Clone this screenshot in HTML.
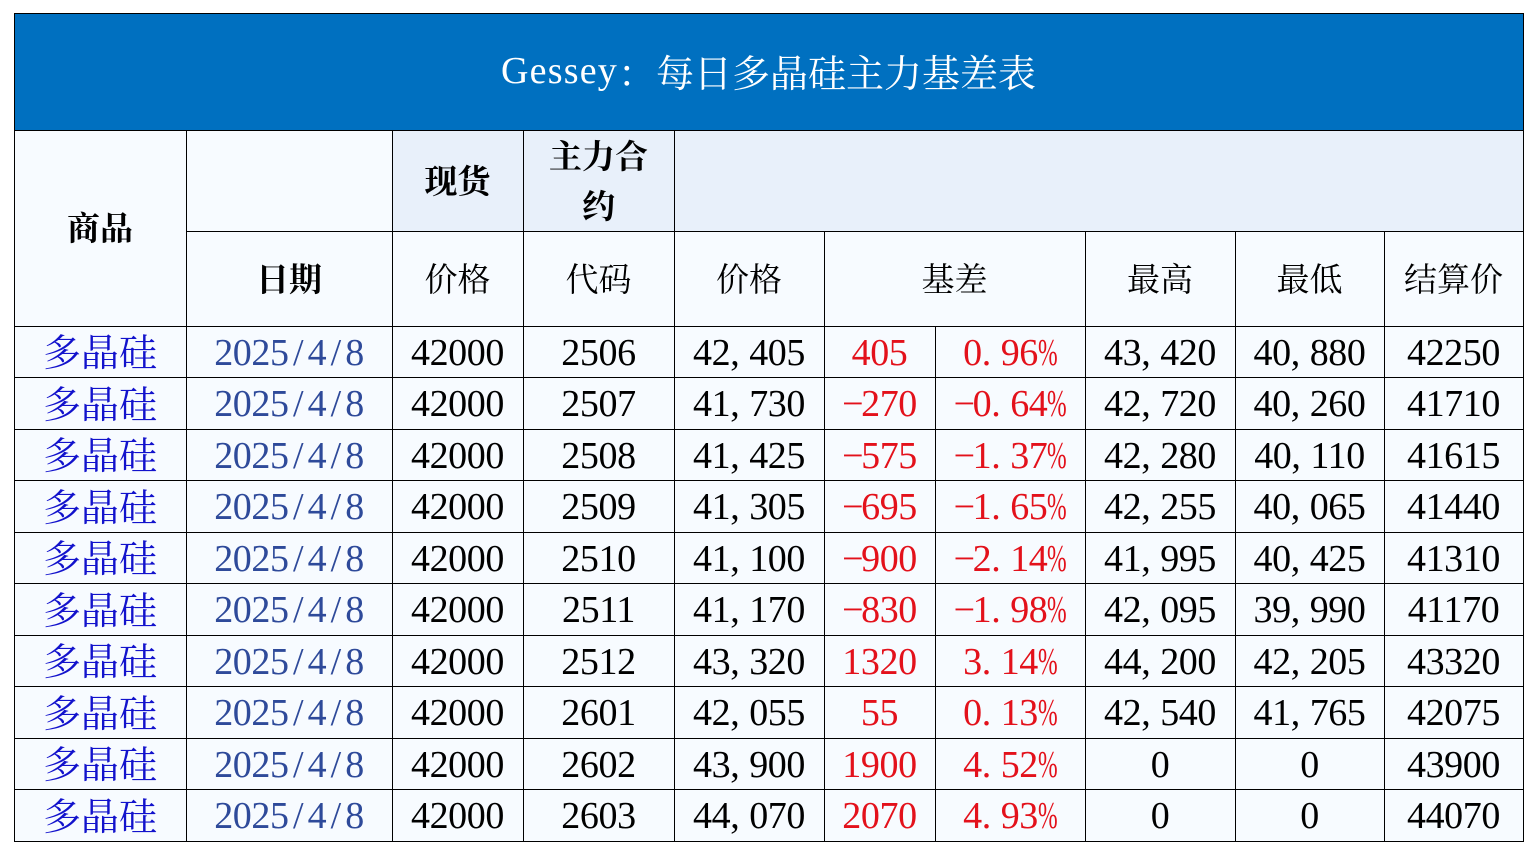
<!DOCTYPE html>
<html><head><meta charset="utf-8">
<style>
html,body{margin:0;padding:0;background:#fff}
body{width:1537px;height:861px;position:relative;overflow:hidden}
.bg{position:absolute}
.c{position:absolute;display:flex;align-items:center;justify-content:center;white-space:nowrap;box-sizing:border-box;padding-top:2px}
.n{font-family:"Liberation Serif","Noto Serif CJK SC",serif;font-size:38px;letter-spacing:-0.4px;line-height:1;color:#000}
.k{font-family:"Noto Serif CJK SC","Liberation Serif",serif;line-height:1;padding-top:0;padding-bottom:3px}
.h{font-size:33px;color:#000}
.hb{font-size:33px;color:#000;font-weight:bold}
.p{font-size:38px;color:#1212cc}
.d{color:#2e4a9a}
.r{color:#e3111b}
i{font-style:normal;display:inline-block;width:.5em;text-align:left}
i.s{text-align:center}
i.m{text-align:center}
u{text-decoration:none;display:inline-block;width:.5em;overflow:visible}
u span{display:inline-block;transform:scaleX(.62);transform-origin:left center}
.L{position:absolute;background:#000}
</style></head><body>

<!-- backgrounds -->
<div class="bg" style="left:14px;top:13px;width:1509px;height:117px;background:#0070c0"></div>
<div class="bg" style="left:14px;top:130px;width:1509px;height:711px;background:#f7fbff"></div>
<div class="bg" style="left:392px;top:130px;width:1131px;height:101px;background:#e8f0fa"></div>

<!-- title -->
<div class="c" style="left:14px;top:13px;width:1509px;height:117px;padding-top:0;padding-bottom:2px;color:#fff;font-size:38px;font-family:'Liberation Serif','Noto Serif CJK SC',serif;line-height:1"><span style="letter-spacing:1.2px">Gessey</span><span style="font-family:'Noto Serif CJK SC',serif">：每日多晶硅主力基差表</span></div>

<!-- headers -->
<div class="c k hb" style="left:14px;top:130px;width:172px;height:196px">商品</div>
<div class="c k hb" style="left:186px;top:231px;width:206px;height:95px">日期</div>
<div class="c k hb" style="left:392px;top:130px;width:131px;height:101px">现货</div>
<div class="c k hb" style="left:523px;top:130px;width:151px;height:101px;padding-top:0;padding-bottom:2px;line-height:50px;white-space:normal;text-align:center"><div style="width:100px">主力合<br>约</div></div>
<div class="c k h" style="left:392px;top:231px;width:131px;height:95px">价格</div>
<div class="c k h" style="left:523px;top:231px;width:151px;height:95px">代码</div>
<div class="c k h" style="left:674px;top:231px;width:150px;height:95px">价格</div>
<div class="c k h" style="left:824px;top:231px;width:261px;height:95px">基差</div>
<div class="c k h" style="left:1085px;top:231px;width:150px;height:95px">最高</div>
<div class="c k h" style="left:1235px;top:231px;width:149px;height:95px">最低</div>
<div class="c k h" style="left:1384px;top:231px;width:139px;height:95px">结算价</div>

<!-- row 1 -->
<div class="c k p" style="left:14px;top:326px;width:172px;height:51px">多晶硅</div>
<div class="c n d" style="left:186px;top:326px;width:206px;height:51px">2025<i class="s">/</i>4<i class="s">/</i>8</div>
<div class="c n" style="left:392px;top:326px;width:131px;height:51px">42000</div>
<div class="c n" style="left:523px;top:326px;width:151px;height:51px">2506</div>
<div class="c n" style="left:674px;top:326px;width:150px;height:51px">42<i>,</i>405</div>
<div class="c n r" style="left:824px;top:326px;width:111px;height:51px">405</div>
<div class="c n r" style="left:935px;top:326px;width:150px;height:51px">0<i>.</i>96<u><span>%</span></u></div>
<div class="c n" style="left:1085px;top:326px;width:150px;height:51px">43<i>,</i>420</div>
<div class="c n" style="left:1235px;top:326px;width:149px;height:51px">40<i>,</i>880</div>
<div class="c n" style="left:1384px;top:326px;width:139px;height:51px">42250</div>

<!-- row 2 -->
<div class="c k p" style="left:14px;top:377px;width:172px;height:52px">多晶硅</div>
<div class="c n d" style="left:186px;top:377px;width:206px;height:52px">2025<i class="s">/</i>4<i class="s">/</i>8</div>
<div class="c n" style="left:392px;top:377px;width:131px;height:52px">42000</div>
<div class="c n" style="left:523px;top:377px;width:151px;height:52px">2507</div>
<div class="c n" style="left:674px;top:377px;width:150px;height:52px">41<i>,</i>730</div>
<div class="c n r" style="left:824px;top:377px;width:111px;height:52px"><i class="m">−</i>270</div>
<div class="c n r" style="left:935px;top:377px;width:150px;height:52px"><i class="m">−</i>0<i>.</i>64<u><span>%</span></u></div>
<div class="c n" style="left:1085px;top:377px;width:150px;height:52px">42<i>,</i>720</div>
<div class="c n" style="left:1235px;top:377px;width:149px;height:52px">40<i>,</i>260</div>
<div class="c n" style="left:1384px;top:377px;width:139px;height:52px">41710</div>

<!-- row 3 -->
<div class="c k p" style="left:14px;top:429px;width:172px;height:51px">多晶硅</div>
<div class="c n d" style="left:186px;top:429px;width:206px;height:51px">2025<i class="s">/</i>4<i class="s">/</i>8</div>
<div class="c n" style="left:392px;top:429px;width:131px;height:51px">42000</div>
<div class="c n" style="left:523px;top:429px;width:151px;height:51px">2508</div>
<div class="c n" style="left:674px;top:429px;width:150px;height:51px">41<i>,</i>425</div>
<div class="c n r" style="left:824px;top:429px;width:111px;height:51px"><i class="m">−</i>575</div>
<div class="c n r" style="left:935px;top:429px;width:150px;height:51px"><i class="m">−</i>1<i>.</i>37<u><span>%</span></u></div>
<div class="c n" style="left:1085px;top:429px;width:150px;height:51px">42<i>,</i>280</div>
<div class="c n" style="left:1235px;top:429px;width:149px;height:51px">40<i>,</i>110</div>
<div class="c n" style="left:1384px;top:429px;width:139px;height:51px">41615</div>

<!-- row 4 -->
<div class="c k p" style="left:14px;top:480px;width:172px;height:52px">多晶硅</div>
<div class="c n d" style="left:186px;top:480px;width:206px;height:52px">2025<i class="s">/</i>4<i class="s">/</i>8</div>
<div class="c n" style="left:392px;top:480px;width:131px;height:52px">42000</div>
<div class="c n" style="left:523px;top:480px;width:151px;height:52px">2509</div>
<div class="c n" style="left:674px;top:480px;width:150px;height:52px">41<i>,</i>305</div>
<div class="c n r" style="left:824px;top:480px;width:111px;height:52px"><i class="m">−</i>695</div>
<div class="c n r" style="left:935px;top:480px;width:150px;height:52px"><i class="m">−</i>1<i>.</i>65<u><span>%</span></u></div>
<div class="c n" style="left:1085px;top:480px;width:150px;height:52px">42<i>,</i>255</div>
<div class="c n" style="left:1235px;top:480px;width:149px;height:52px">40<i>,</i>065</div>
<div class="c n" style="left:1384px;top:480px;width:139px;height:52px">41440</div>

<!-- row 5 -->
<div class="c k p" style="left:14px;top:532px;width:172px;height:51px">多晶硅</div>
<div class="c n d" style="left:186px;top:532px;width:206px;height:51px">2025<i class="s">/</i>4<i class="s">/</i>8</div>
<div class="c n" style="left:392px;top:532px;width:131px;height:51px">42000</div>
<div class="c n" style="left:523px;top:532px;width:151px;height:51px">2510</div>
<div class="c n" style="left:674px;top:532px;width:150px;height:51px">41<i>,</i>100</div>
<div class="c n r" style="left:824px;top:532px;width:111px;height:51px"><i class="m">−</i>900</div>
<div class="c n r" style="left:935px;top:532px;width:150px;height:51px"><i class="m">−</i>2<i>.</i>14<u><span>%</span></u></div>
<div class="c n" style="left:1085px;top:532px;width:150px;height:51px">41<i>,</i>995</div>
<div class="c n" style="left:1235px;top:532px;width:149px;height:51px">40<i>,</i>425</div>
<div class="c n" style="left:1384px;top:532px;width:139px;height:51px">41310</div>

<!-- row 6 -->
<div class="c k p" style="left:14px;top:583px;width:172px;height:52px">多晶硅</div>
<div class="c n d" style="left:186px;top:583px;width:206px;height:52px">2025<i class="s">/</i>4<i class="s">/</i>8</div>
<div class="c n" style="left:392px;top:583px;width:131px;height:52px">42000</div>
<div class="c n" style="left:523px;top:583px;width:151px;height:52px">2511</div>
<div class="c n" style="left:674px;top:583px;width:150px;height:52px">41<i>,</i>170</div>
<div class="c n r" style="left:824px;top:583px;width:111px;height:52px"><i class="m">−</i>830</div>
<div class="c n r" style="left:935px;top:583px;width:150px;height:52px"><i class="m">−</i>1<i>.</i>98<u><span>%</span></u></div>
<div class="c n" style="left:1085px;top:583px;width:150px;height:52px">42<i>,</i>095</div>
<div class="c n" style="left:1235px;top:583px;width:149px;height:52px">39<i>,</i>990</div>
<div class="c n" style="left:1384px;top:583px;width:139px;height:52px">41170</div>

<!-- row 7 -->
<div class="c k p" style="left:14px;top:635px;width:172px;height:51px">多晶硅</div>
<div class="c n d" style="left:186px;top:635px;width:206px;height:51px">2025<i class="s">/</i>4<i class="s">/</i>8</div>
<div class="c n" style="left:392px;top:635px;width:131px;height:51px">42000</div>
<div class="c n" style="left:523px;top:635px;width:151px;height:51px">2512</div>
<div class="c n" style="left:674px;top:635px;width:150px;height:51px">43<i>,</i>320</div>
<div class="c n r" style="left:824px;top:635px;width:111px;height:51px">1320</div>
<div class="c n r" style="left:935px;top:635px;width:150px;height:51px">3<i>.</i>14<u><span>%</span></u></div>
<div class="c n" style="left:1085px;top:635px;width:150px;height:51px">44<i>,</i>200</div>
<div class="c n" style="left:1235px;top:635px;width:149px;height:51px">42<i>,</i>205</div>
<div class="c n" style="left:1384px;top:635px;width:139px;height:51px">43320</div>

<!-- row 8 -->
<div class="c k p" style="left:14px;top:686px;width:172px;height:52px">多晶硅</div>
<div class="c n d" style="left:186px;top:686px;width:206px;height:52px">2025<i class="s">/</i>4<i class="s">/</i>8</div>
<div class="c n" style="left:392px;top:686px;width:131px;height:52px">42000</div>
<div class="c n" style="left:523px;top:686px;width:151px;height:52px">2601</div>
<div class="c n" style="left:674px;top:686px;width:150px;height:52px">42<i>,</i>055</div>
<div class="c n r" style="left:824px;top:686px;width:111px;height:52px">55</div>
<div class="c n r" style="left:935px;top:686px;width:150px;height:52px">0<i>.</i>13<u><span>%</span></u></div>
<div class="c n" style="left:1085px;top:686px;width:150px;height:52px">42<i>,</i>540</div>
<div class="c n" style="left:1235px;top:686px;width:149px;height:52px">41<i>,</i>765</div>
<div class="c n" style="left:1384px;top:686px;width:139px;height:52px">42075</div>

<!-- row 9 -->
<div class="c k p" style="left:14px;top:738px;width:172px;height:51px">多晶硅</div>
<div class="c n d" style="left:186px;top:738px;width:206px;height:51px">2025<i class="s">/</i>4<i class="s">/</i>8</div>
<div class="c n" style="left:392px;top:738px;width:131px;height:51px">42000</div>
<div class="c n" style="left:523px;top:738px;width:151px;height:51px">2602</div>
<div class="c n" style="left:674px;top:738px;width:150px;height:51px">43<i>,</i>900</div>
<div class="c n r" style="left:824px;top:738px;width:111px;height:51px">1900</div>
<div class="c n r" style="left:935px;top:738px;width:150px;height:51px">4<i>.</i>52<u><span>%</span></u></div>
<div class="c n" style="left:1085px;top:738px;width:150px;height:51px">0</div>
<div class="c n" style="left:1235px;top:738px;width:149px;height:51px">0</div>
<div class="c n" style="left:1384px;top:738px;width:139px;height:51px">43900</div>

<!-- row 10 -->
<div class="c k p" style="left:14px;top:789px;width:172px;height:52px">多晶硅</div>
<div class="c n d" style="left:186px;top:789px;width:206px;height:52px">2025<i class="s">/</i>4<i class="s">/</i>8</div>
<div class="c n" style="left:392px;top:789px;width:131px;height:52px">42000</div>
<div class="c n" style="left:523px;top:789px;width:151px;height:52px">2603</div>
<div class="c n" style="left:674px;top:789px;width:150px;height:52px">44<i>,</i>070</div>
<div class="c n r" style="left:824px;top:789px;width:111px;height:52px">2070</div>
<div class="c n r" style="left:935px;top:789px;width:150px;height:52px">4<i>.</i>93<u><span>%</span></u></div>
<div class="c n" style="left:1085px;top:789px;width:150px;height:52px">0</div>
<div class="c n" style="left:1235px;top:789px;width:149px;height:52px">0</div>
<div class="c n" style="left:1384px;top:789px;width:139px;height:52px">44070</div>

<!-- grid lines: horizontal -->
<div class="L" style="left:14px;top:13px;width:1510px;height:1px"></div>
<div class="L" style="left:14px;top:130px;width:1510px;height:1px"></div>
<div class="L" style="left:186px;top:231px;width:1338px;height:1px"></div>
<div class="L" style="left:14px;top:326px;width:1510px;height:1px"></div>
<div class="L" style="left:14px;top:377px;width:1510px;height:1px"></div>
<div class="L" style="left:14px;top:429px;width:1510px;height:1px"></div>
<div class="L" style="left:14px;top:480px;width:1510px;height:1px"></div>
<div class="L" style="left:14px;top:532px;width:1510px;height:1px"></div>
<div class="L" style="left:14px;top:583px;width:1510px;height:1px"></div>
<div class="L" style="left:14px;top:635px;width:1510px;height:1px"></div>
<div class="L" style="left:14px;top:686px;width:1510px;height:1px"></div>
<div class="L" style="left:14px;top:738px;width:1510px;height:1px"></div>
<div class="L" style="left:14px;top:789px;width:1510px;height:1px"></div>
<div class="L" style="left:14px;top:841px;width:1510px;height:1px"></div>

<!-- grid lines: vertical -->
<div class="L" style="left:14px;top:13px;width:1px;height:829px"></div>
<div class="L" style="left:1523px;top:13px;width:1px;height:829px"></div>
<div class="L" style="left:186px;top:130px;width:1px;height:712px"></div>
<div class="L" style="left:392px;top:130px;width:1px;height:712px"></div>
<div class="L" style="left:523px;top:130px;width:1px;height:712px"></div>
<div class="L" style="left:674px;top:130px;width:1px;height:712px"></div>
<div class="L" style="left:824px;top:231px;width:1px;height:611px"></div>
<div class="L" style="left:935px;top:326px;width:1px;height:516px"></div>
<div class="L" style="left:1085px;top:231px;width:1px;height:611px"></div>
<div class="L" style="left:1235px;top:231px;width:1px;height:611px"></div>
<div class="L" style="left:1384px;top:231px;width:1px;height:611px"></div>

</body></html>
